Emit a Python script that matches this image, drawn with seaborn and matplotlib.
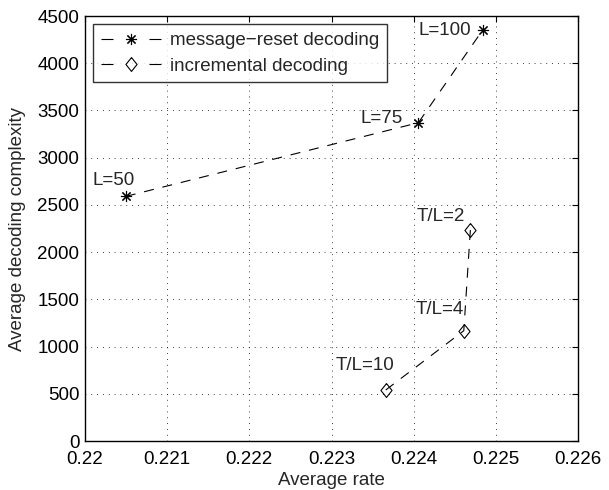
import matplotlib
matplotlib.use("Agg")
import matplotlib.pyplot as plt
import seaborn as sns
import pandas as pd

# data
reset_rate = [0.220496, 0.224057, 0.224840]
reset_cplx = [2590, 3370, 4352]
reset_labels = ["L=50", "L=75", "L=100"]
incr_rate = [0.224690, 0.224610, 0.223660]
incr_cplx = [2234, 1168, 540]
incr_labels = ["T/L=2", "T/L=4", "T/L=10"]
xticks = [0.22, 0.221, 0.222, 0.223, 0.224, 0.225, 0.226]
xticklabels = ["0.22", "0.221", "0.222", "0.223", "0.224", "0.225", "0.226"]
yticks = [0, 500, 1000, 1500, 2000, 2500, 3000, 3500, 4000, 4500]

sns.set_style("white")
plt.rcParams['font.family'] = ['Liberation Sans', 'DejaVu Sans']

fig = plt.figure(figsize=(6.09, 4.9), dpi=100)
ax = fig.add_axes([0.1396, 0.1, 0.9491 - 0.1396, 0.9673 - 0.1])

diamond = [(0, 1), (0.8, 0), (0, -1), (-0.8, 0), (0, 1)]

df1 = pd.DataFrame({"rate": reset_rate, "cplx": reset_cplx})
df2 = pd.DataFrame({"rate": incr_rate, "cplx": incr_cplx})
dash = (0, (9, 8))
sns.lineplot(data=df1, x="rate", y="cplx", sort=False, ax=ax, color="black",
             linewidth=0.8, linestyle=dash, marker=(8, 2, 0), markersize=8,
             markeredgewidth=0.8, markeredgecolor="black",
             label="message\u2212reset decoding")
sns.lineplot(data=df2, x="rate", y="cplx", sort=False, ax=ax, color="black",
             linewidth=0.8, linestyle=dash, marker=diamond, markersize=10,
             markerfacecolor="none", markeredgewidth=0.8, markeredgecolor="black",
             label="incremental decoding")

fs = 13.5
offsets_reset = [(-24, 11.5, "left"), (-11.5, 3, "right"), (-8.6, 0, "right")]
for xv, yv, t, (dx, dy, ha) in zip(reset_rate, reset_cplx, reset_labels, offsets_reset):
    ax.annotate(t, (xv, yv), xytext=(dx, dy), textcoords="offset points",
                ha=ha, va="center", fontsize=fs)
offsets_incr = [(-39, 9.6, "left"), (-35, 15, "left"), (-36, 18, "left")]
for xv, yv, t, (dx, dy, ha) in zip(incr_rate, incr_cplx, incr_labels, offsets_incr):
    ax.annotate(t, (xv, yv), xytext=(dx, dy), textcoords="offset points",
                ha=ha, va="center", fontsize=fs)

ax.set_xlim(0.22, 0.226)
ax.set_ylim(0, 4500)
ax.set_xticks(xticks)
ax.set_xticklabels(xticklabels)
ax.set_yticks(yticks)
ax.tick_params(direction="in", top=True, right=True, length=4, width=0.8,
               labelsize=fs, colors="black")
ax.tick_params(axis="x", pad=7)
ax.tick_params(axis="y", pad=4)
ax.grid(True, linestyle=(0, (1, 6)), color="black", linewidth=0.6)
for s in ax.spines.values():
    s.set_color("black")
    s.set_linewidth(1.0)
ax.set_xlabel("Average rate", fontsize=fs, labelpad=3)
ax.set_ylabel("Average decoding complexity", fontsize=fs, labelpad=8)

leg = ax.legend(loc="upper left", fontsize=fs, frameon=True, fancybox=False,
                edgecolor="black", handlelength=3.2, borderaxespad=0.45,
                labelspacing=0.45, borderpad=0.4, handletextpad=0.5)
leg.get_frame().set_linewidth(1.0)
for ln in leg.get_lines():
    ln.set_dashes((10.8, 32.4))

fig.savefig("out.png", dpi=100)
